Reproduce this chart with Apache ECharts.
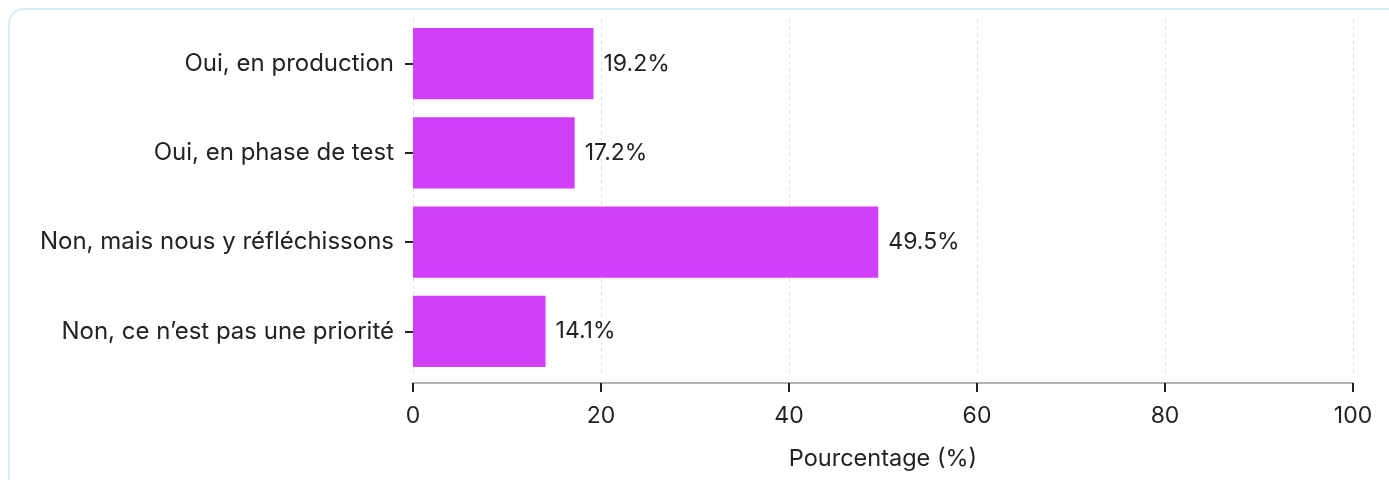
<!DOCTYPE html>
<html>
<head>
<meta charset="utf-8">
<script src="https://cdn.jsdelivr.net/npm/echarts@6/dist/echarts.min.js"></script>
<style>
html,body{margin:0;padding:0;background:#fff;}
#card{position:absolute;left:8px;top:8px;width:1400px;height:500px;border:2px solid #d4ebf8;border-radius:16px;box-sizing:border-box;}
#c{position:absolute;left:0;top:0;width:1389px;height:480px;}
</style>
</head>
<body>
<div id="card"></div>
<div id="c"></div>
<script>
const categories = ["Oui, en production", "Oui, en phase de test", "Non, mais nous y réfléchissons", "Non, ce n’est pas une priorité"];
const values = [19.2, 17.2, 49.5, 14.1];
const xTicks = [0, 20, 40, 60, 80, 100];

const chart = echarts.init(document.getElementById('c'));
chart.setOption({
  animation: false,
  grid: {left: 413, right: 36, top: 19, bottom: 104, containLabel: false},
  xAxis: {
    type: 'value', min: 0, max: 100, interval: 20, offset: 7,
    name: 'Pourcentage (%)', nameLocation: 'middle', nameGap: 64,
    nameTextStyle: {fontFamily: 'Inter', fontSize: 23.5, color: '#222'},
    axisLine: {show: true, lineStyle: {color: '#b0b0b0', width: 2}},
    axisTick: {show: true, length: 9, lineStyle: {color: '#222', width: 2}},
    axisLabel: {fontFamily: 'Inter', fontSize: 23, color: '#222', margin: 22,
      formatter: v => xTicks.includes(v) ? String(v) : ''},
    splitLine: {show: true, lineStyle: {color: '#e2e2e2', type: [4, 3], width: 1}}
  },
  yAxis: {
    type: 'category', data: categories, inverse: true,
    axisLine: {show: false},
    axisTick: {show: true, alignWithLabel: true, length: 8, inside: false, lineStyle: {color: '#222', width: 2}},
    axisLabel: {fontFamily: 'Inter', fontSize: 24, color: '#222', margin: 19},
    splitLine: {show: false}
  },
  series: [{
    type: 'bar', data: values, barCategoryGap: '20%',
    itemStyle: {color: '#d13ffb'},
    label: {show: true, position: 'right', distance: 10, formatter: p => p.value.toFixed(1) + '%',
      fontFamily: 'Inter', fontSize: 23, color: '#222'}
  }]
});
</script>
</body>
</html>
